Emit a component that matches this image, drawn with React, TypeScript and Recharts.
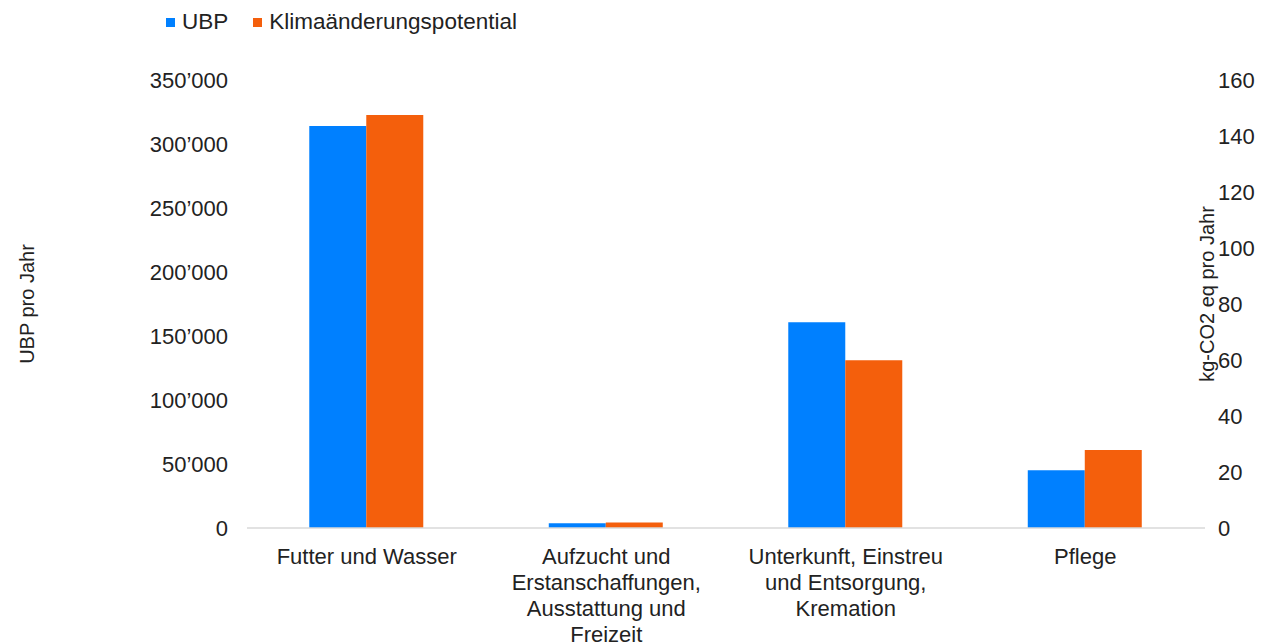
import { Bar, BarChart, Legend, XAxis, YAxis } from "recharts";

const CATEGORIES = [
  "Futter und Wasser",
  "Aufzucht und\nErstanschaffungen,\nAusstattung und\nFreizeit",
  "Unterkunft, Einstreu\nund Entsorgung,\nKremation",
  "Pflege",
];
const UBP = [314000, 3700, 160700, 45100];
const KLIMA = [147.5, 2.0, 59.9, 27.9];
const UBP_TICKS = [0, 50000, 100000, 150000, 200000, 250000, 300000, 350000];
const KLIMA_TICKS = [0, 20, 40, 60, 80, 100, 120, 140, 160];

const BLUE = "#0080ff";
const ORANGE = "#f45f0c";
const FONT = "'Liberation Sans', Arial, sans-serif";
const TEXT = "#222";

const data = CATEGORIES.map((name, i) => ({ name, ubp: UBP[i], klima: KLIMA[i] }));

const fmtUbp = (v: number) =>
  v === 0 ? "0" : String(v).replace(/\B(?=(\d{3})+(?!\d))/g, "\u2019");

function CategoryTick({ x, y, payload }: any) {
  const lines = String(payload.value).split("\n");
  return (
    <text x={x} y={y} textAnchor="middle" fill={TEXT} fontSize={22} fontFamily={FONT}>
      {lines.map((l, i) => (
        <tspan key={i} x={x} y={y + 34 + i * 26}>
          {l}
        </tspan>
      ))}
    </text>
  );
}

function AxisTitle({ viewBox, value, dx, dy }: any) {
  const cx = viewBox.x + dx;
  const cy = viewBox.y + viewBox.height / 2 + dy;
  return (
    <text
      x={cx}
      y={cy}
      transform={`rotate(-90 ${cx} ${cy})`}
      textAnchor="middle"
      dominantBaseline="central"
      fill={TEXT}
      fontSize={20}
      fontFamily={FONT}
    >
      {value}
    </text>
  );
}

function LegendBox() {
  const item = (color: string, label: string, gapAfter: number) => (
    <span style={{ display: "flex", alignItems: "center", marginRight: gapAfter }}>
      <span style={{ width: 9, height: 9, background: color, marginRight: 7 }} />
      <span>{label}</span>
    </span>
  );
  return (
    <div
      style={{
        display: "flex",
        alignItems: "center",
        height: 44,
        paddingLeft: 166,
        fontFamily: FONT,
        fontSize: 22.5,
        color: TEXT,
      }}
    >
      {item(BLUE, "UBP", 25)}
      {item(ORANGE, "Klimaänderungspotential", 0)}
    </div>
  );
}

export default function App() {
  return (
    <div style={{ position: "absolute", left: 0, top: 0, background: "#fff" }}>
      <BarChart
        width={1274}
        height={642}
        data={data}
        margin={{ top: 36, right: 0, bottom: 0, left: 0 }}
        barCategoryGap="26%"
        barGap={0}
      >
        <Legend
          verticalAlign="top"
          align="left"
          wrapperStyle={{ top: 0, left: 0 }}
          content={<LegendBox />}
        />
        <XAxis
          dataKey="name"
          height={114}
          interval={0}
          tickLine={false}
          tickSize={0}
          axisLine={{ stroke: "#d9d9d9", strokeWidth: 1.5 }}
          tick={<CategoryTick />}
        />
        <YAxis
          yAxisId="left"
          width={247}
          domain={[0, 350000]}
          ticks={UBP_TICKS}
          tickFormatter={fmtUbp}
          axisLine={false}
          tickLine={false}
          tickSize={0}
          tickMargin={19}
          tick={{ fill: TEXT, fontSize: 22, fontFamily: FONT }}
          label={<AxisTitle value="UBP pro Jahr" dx={27} dy={0} />}
        />
        <YAxis
          yAxisId="right"
          orientation="right"
          width={69}
          domain={[0, 160]}
          ticks={KLIMA_TICKS}
          axisLine={false}
          tickLine={false}
          tickSize={0}
          tickMargin={13}
          tick={{ fill: TEXT, fontSize: 22, fontFamily: FONT }}
          label={<AxisTitle value="kg-CO2 eq pro Jahr" dx={2} dy={-10} />}
        />
        <Bar yAxisId="left" dataKey="ubp" name="UBP" fill={BLUE} isAnimationActive={false} />
        <Bar
          yAxisId="right"
          dataKey="klima"
          name="Klimaänderungspotential"
          fill={ORANGE}
          isAnimationActive={false}
        />
      </BarChart>
    </div>
  );
}
